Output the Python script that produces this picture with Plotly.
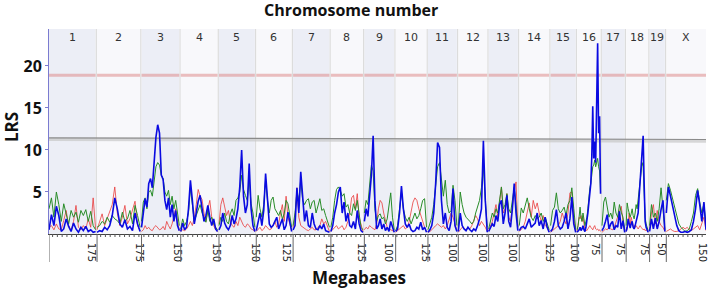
import plotly.graph_objects as go

# ---------------- data ----------------
CHROMS = ["1", "2", "3", "4", "5", "6", "7", "8", "9", "10",
          "11", "12", "13", "14", "15", "16", "17", "18", "19", "X"]
CHROM_LEN = [195, 180, 158, 154, 150, 148, 152, 134, 125, 129,
             121, 121, 122, 125, 105, 98, 95, 92, 64, 166]
GAP_MB = 6
LABEL_MB = [175, 175, 150, 150, 150, 125, 150, 125, 100, 125,
            100, 100, 100, 125, 100, 75, 75, 75, 50, 150]
MINOR_STEP_MB = 20

SIG_LRS = 18.9
SUG_LRS = (11.45, 11.25)

blue1 = [0.5, 2.3, 1.0, 3.3, 2.2, 0.3, 0.6, 1.8, 0.9, 0.3, 1.3, 0.6, 0.2, 0.8, 0.4, 0.9, 0.3, 0.5, 0.2, 0.3]
green1 = [3.0, 4.3, 2.0, 5.0, 3.5, 1.5, 3.6, 2.4, 1.2, 2.8, 2.0, 2.6, 1.4, 2.8, 2.2, 2.9, 1.5, 2.7, 1.0, 0.5]
red1 = [0.8, 1.0, 0.5, 1.2, 0.6, 0.5, 1.6, 2.8, 1.0, 0.4, 1.5, 3.4, 0.8, 0.5, 1.0, 0.6, 1.8, 0.8, 4.3, 0.6]

blue2 = [0.2, 0.4, 0.3, 0.8, 0.5, 1.0, 2.2, 4.3, 3.0, 1.2, 0.8, 1.7, 0.6, 0.9, 0.4, 2.5, 1.2, 0.3]
green2 = [0.8, 1.0, 1.5, 1.2, 2.0, 1.4, 2.2, 1.8, 1.6, 1.2, 2.6, 1.5, 1.8, 2.8, 1.2, 3.4, 2.2, 0.8]
red2 = [0.5, 1.5, 2.4, 1.0, 1.8, 2.5, 3.5, 5.6, 2.5, 1.0, 2.0, 3.4, 1.2, 1.8, 3.0, 3.9, 1.0, 0.4]

blue3 = [0.8, 2.5, 4.2, 3.2, 6.0, 6.6, 5.5, 8.5, 11.5, 13.0, 12.0, 7.0, 6.5, 4.0, 2.9, 4.3, 2.0, 3.5, 1.5, 2.8, 1.0, 0.4]
green3 = [1.5, 3.8, 4.3, 3.0, 5.0, 5.2, 4.5, 6.5, 8.0, 8.5, 8.2, 7.0, 6.6, 5.0, 4.5, 5.2, 3.5, 4.5, 3.0, 4.0, 2.2, 1.0]
red3 = [0.3, 0.5, 1.0, 0.6, 0.8, 0.5, 0.4, 0.8, 1.0, 0.8, 0.5, 0.6, 0.9, 0.5, 1.5, 1.0, 0.6, 1.2, 2.0, 3.0, 1.5, 0.4]

blue4 = [0.3, 1.3, 0.5, 0.8, 3.0, 6.4, 4.0, 1.2, 2.5, 3.9, 4.6, 2.8, 1.5, 2.2, 3.4, 2.0, 1.0, 1.8, 0.6, 0.3]
green4 = [0.6, 1.8, 1.0, 1.5, 2.5, 5.5, 3.5, 1.5, 2.2, 3.0, 3.5, 2.5, 2.0, 1.4, 2.8, 1.5, 2.0, 1.2, 0.8, 0.5]
red4 = [0.3, 0.5, 0.4, 0.6, 1.0, 1.5, 1.0, 2.0, 3.5, 5.3, 4.5, 4.1, 2.5, 1.5, 3.0, 4.0, 2.0, 1.0, 0.5, 0.3]

blue5 = [0.5, 1.0, 2.5, 1.3, 0.8, 0.5, 1.0, 2.2, 1.2, 1.8, 3.0, 5.6, 10.0, 4.5, 2.5, 3.5, 8.4, 3.0, 1.0, 0.3]
green5 = [1.0, 2.0, 1.5, 2.5, 1.5, 1.2, 2.4, 3.0, 2.2, 4.0, 4.3, 5.0, 7.0, 5.3, 4.6, 4.0, 6.5, 3.6, 2.5, 0.8]
red5 = [1.2, 3.5, 4.3, 3.0, 2.2, 2.8, 1.5, 1.0, 0.8, 1.5, 1.0, 2.0, 1.5, 1.0, 0.8, 1.2, 1.0, 0.6, 0.5, 0.3]

blue6 = [0.4, 1.5, 2.5, 1.0, 2.8, 7.2, 3.5, 1.2, 0.8, 1.0, 1.5, 2.0, 0.6, 1.2, 1.8, 0.5, 1.0, 2.6, 1.2, 0.3]
green6 = [2.0, 4.6, 3.0, 2.0, 3.5, 6.5, 4.0, 2.5, 4.0, 4.4, 3.0, 2.6, 2.2, 2.8, 1.8, 2.4, 4.0, 3.6, 2.0, 0.8]
red6 = [0.3, 0.5, 0.8, 0.4, 0.6, 1.0, 0.8, 0.5, 0.6, 1.0, 1.5, 0.8, 1.2, 2.5, 3.5, 1.5, 4.5, 2.0, 1.0, 0.4]

blue7 = [0.5, 1.0, 5.5, 2.5, 7.4, 4.5, 1.5, 2.8, 1.0, 0.8, 2.5, 1.2, 0.6, 0.5, 1.0, 0.6, 1.2, 0.4, 0.3, 0.2]
green7 = [1.0, 2.5, 5.0, 4.0, 6.5, 4.0, 3.5, 4.0, 4.2, 3.0, 3.8, 4.0, 2.5, 3.5, 4.2, 2.8, 3.0, 2.2, 1.5, 0.8]
red7 = [0.8, 2.0, 5.5, 2.0, 1.0, 0.8, 0.6, 0.5, 0.4, 0.6, 0.8, 0.5, 0.5, 0.8, 1.0, 1.8, 1.2, 1.5, 0.8, 0.3]

blue8 = [0.3, 1.0, 2.5, 3.5, 5.0, 5.6, 2.5, 3.8, 1.5, 2.5, 1.0, 0.8, 1.5, 0.6, 2.8, 1.2, 0.4, 0.2]
green8 = [0.8, 2.0, 4.0, 5.3, 5.6, 5.2, 4.5, 4.8, 3.2, 3.5, 2.5, 2.2, 3.6, 2.8, 4.0, 2.0, 0.8, 0.5]
red8 = [0.3, 0.5, 0.8, 1.0, 0.6, 0.8, 1.0, 0.5, 0.8, 1.5, 2.5, 4.3, 4.6, 3.0, 4.8, 2.0, 1.0, 0.3]

blue9 = [1.5, 3.0, 2.1, 4.5, 7.0, 11.7, 4.0, 0.6, 1.0, 1.8, 0.6, 1.2, 0.4, 0.8, 0.3, 1.5, 0.8, 0.2]
green9 = [2.5, 4.0, 3.5, 6.0, 8.2, 7.5, 3.0, 1.5, 2.2, 2.4, 1.8, 2.0, 1.2, 1.8, 3.5, 4.9, 2.0, 0.5]
red9 = [0.5, 0.8, 0.6, 1.0, 0.8, 0.6, 0.5, 1.2, 3.0, 4.0, 3.7, 2.5, 1.5, 0.8, 0.6, 0.5, 0.4, 0.3]

blue10 = [0.3, 0.6, 2.5, 5.7, 3.0, 1.2, 0.8, 1.2, 0.5, 0.3, 0.4, 0.8, 0.6, 1.4, 0.5, 0.8, 0.2]
green10 = [0.4, 1.0, 3.0, 5.0, 3.0, 2.0, 1.5, 2.0, 1.2, 2.0, 2.5, 1.8, 2.2, 3.0, 4.0, 4.2, 0.8]
red10 = [0.2, 0.4, 0.6, 0.8, 1.0, 0.6, 0.8, 1.5, 2.5, 3.8, 4.3, 4.0, 3.0, 2.2, 1.5, 0.8, 0.3]

blue11 = [0.2, 0.5, 1.0, 2.5, 6.0, 10.9, 10.3, 4.0, 1.2, 2.5, 0.8, 0.4, 1.5, 5.4, 1.0, 0.3]
green11 = [0.5, 1.2, 2.0, 3.5, 6.0, 8.0, 8.5, 6.5, 4.5, 6.4, 3.5, 2.5, 2.8, 5.8, 4.0, 1.0]
red11 = [0.2, 0.3, 0.5, 0.8, 1.0, 1.2, 1.0, 0.8, 1.0, 0.6, 1.0, 1.8, 2.5, 2.0, 1.2, 0.4]

blue12 = [0.3, 2.5, 1.0, 0.6, 0.4, 0.8, 0.5, 0.3, 0.6, 0.4, 1.0, 1.8, 3.0, 11.1, 4.0, 0.2]
green12 = [0.8, 5.0, 3.5, 2.5, 2.0, 1.8, 1.5, 1.2, 1.5, 2.5, 3.4, 4.0, 5.5, 8.0, 4.0, 0.8]
red12 = [0.2, 0.5, 0.8, 0.6, 0.5, 0.8, 0.6, 1.0, 1.5, 2.2, 1.8, 1.0, 1.5, 1.2, 0.8, 0.3]

blue13 = [0.3, 0.8, 1.2, 0.9, 2.2, 1.5, 3.5, 4.0, 1.2, 2.5, 4.6, 1.5, 0.8, 3.0, 6.0, 2.5, 0.4]
green13 = [0.6, 1.5, 2.5, 2.0, 3.0, 2.5, 4.0, 5.6, 3.0, 3.5, 4.8, 3.0, 2.5, 4.0, 5.5, 3.5, 0.8]
red13 = [0.4, 1.0, 1.5, 2.5, 3.5, 2.0, 4.0, 5.6, 2.5, 3.0, 4.8, 2.0, 1.5, 3.5, 5.0, 6.2, 0.8]

blue14 = [0.4, 0.8, 0.9, 0.6, 1.2, 1.8, 0.8, 1.0, 1.3, 2.5, 1.0, 1.6, 0.6, 2.0, 0.8, 0.2]
green14 = [1.0, 3.1, 2.5, 3.3, 4.3, 3.0, 2.0, 1.6, 2.2, 1.8, 2.0, 2.5, 1.5, 2.0, 1.2, 0.5]
red14 = [0.3, 0.5, 0.8, 1.5, 2.5, 3.7, 2.0, 4.0, 3.0, 3.7, 2.5, 1.5, 2.2, 1.0, 0.8, 0.3]

blue15 = [0.3, 0.6, 1.5, 2.9, 1.0, 0.6, 0.8, 1.5, 2.5, 0.6, 1.8, 4.4, 1.2, 0.2]
green15 = [1.0, 2.8, 3.2, 4.9, 3.0, 2.5, 2.8, 3.2, 2.2, 3.5, 4.0, 5.5, 3.0, 0.6]
red15 = [0.2, 0.4, 0.6, 0.8, 1.0, 1.5, 2.5, 1.8, 1.2, 2.5, 4.9, 5.0, 2.0, 0.3]

blue16 = [0.2, 0.3, 0.5, 0.8, 0.4, 0.6, 1.0, 0.5, 0.3, 0.8, 1.5, 2.5, 3.7, 5.0, 6.0, 9.2,
          15.2, 9.0, 11.0, 8.5, 17.0, 22.7, 12.0, 14.0, 4.8]
green16 = [0.5, 1.0, 2.0, 3.2, 2.0, 1.5, 2.5, 1.8, 1.0, 1.5, 2.0, 3.0, 4.5, 5.5, 6.0, 7.0,
           8.0, 8.2, 8.8, 8.0, 8.5, 9.0, 8.0, 7.5, 5.0]
red16 = [0.3, 1.0, 2.0, 1.8, 2.2, 1.5, 2.0, 1.2, 0.6, 0.5, 0.4, 0.6, 0.8, 1.0, 0.8, 0.6,
         0.5, 0.8, 1.0, 0.6, 0.5, 0.6, 0.4, 0.5, 0.3]

blue17 = [0.4, 0.8, 1.5, 2.3, 0.6, 1.2, 1.5, 0.5, 1.0, 0.8, 2.7, 0.6, 1.6, 0.2]
green17 = [1.0, 3.8, 4.4, 3.0, 2.0, 2.5, 1.8, 3.8, 2.5, 2.0, 3.5, 2.6, 2.0, 0.5]
red17 = [0.2, 0.4, 0.6, 0.5, 0.8, 0.6, 0.5, 0.8, 1.5, 2.0, 2.8, 3.3, 1.5, 0.3]

blue18 = [0.3, 0.8, 1.8, 1.2, 0.7, 1.2, 1.5, 0.8, 0.6, 1.0, 1.6, 2.0, 2.5, 4.5, 6.4, 8.0,
          10.0, 11.7, 6.0, 1.5, 0.8, 0.4, 0.2]
green18 = [1.0, 3.7, 3.0, 2.5, 2.0, 2.4, 3.0, 2.2, 1.8, 2.5, 3.5, 3.0, 4.0, 5.6, 6.5, 7.0,
           8.5, 8.0, 4.5, 2.0, 1.2, 0.8, 0.4]
red18 = [0.3, 0.6, 1.2, 2.5, 1.0, 2.0, 1.5, 0.8, 0.6, 0.8, 1.0, 0.8, 0.6, 0.8, 1.0, 0.8,
         0.6, 0.5, 0.6, 0.4, 0.5, 0.3, 0.2]

blue19 = [0.3, 1.8, 0.6, 1.9, 0.6, 1.5, 2.9, 4.0, 0.3]
green19 = [1.0, 3.5, 2.0, 2.5, 1.5, 3.0, 5.5, 2.8, 0.5]
red19 = [0.5, 2.5, 3.5, 1.2, 2.8, 1.5, 1.0, 0.8, 0.3]

blueX = [2.5, 5.6, 4.5, 3.2, 2.0, 1.0, 0.4, 0.2, 0.2, 0.3, 0.2, 0.3, 0.5, 1.5, 3.0, 5.2, 3.5, 1.5, 3.8, 0.5]
greenX = [4.0, 6.0, 5.2, 4.2, 3.0, 2.0, 1.2, 0.8, 0.5, 0.3, 0.4, 0.6, 1.5, 2.5, 4.6, 5.4, 3.8, 2.5, 3.6, 1.0]
redX = [0.3, 0.5, 0.6, 0.4, 0.3, 0.3, 0.4, 0.6, 0.8, 0.6, 0.8, 0.5, 0.4, 0.6, 0.8, 1.0, 0.5, 1.2, 2.0, 0.4]

BLUE = [blue1, blue2, blue3, blue4, blue5, blue6, blue7, blue8, blue9, blue10,
        blue11, blue12, blue13, blue14, blue15, blue16, blue17, blue18, blue19, blueX]
GREEN = [green1, green2, green3, green4, green5, green6, green7, green8, green9, green10,
         green11, green12, green13, green14, green15, green16, green17, green18, green19, greenX]
RED = [red1, red2, red3, red4, red5, red6, red7, red8, red9, red10,
       red11, red12, red13, red14, red15, red16, red17, red18, red19, redX]

# ---------------- layout helpers ----------------
starts = []
p = 0
for L in CHROM_LEN:
    starts.append(p)
    p += L + GAP_MB
TOTAL = starts[-1] + CHROM_LEN[-1]


def series_xy(per_chrom):
    xs, ys = [], []
    for i, vals in enumerate(per_chrom):
        n = len(vals)
        for j, v in enumerate(vals):
            xs.append(starts[i] + CHROM_LEN[i] * j / (n - 1))
            ys.append(v)
        xs.append(None)
        ys.append(None)
    return xs, ys


fig = go.Figure()
for data, color, width in [(RED, "rgba(232,60,60,0.8)", 1),
                           (GREEN, "rgb(40,140,40)", 1),
                           (BLUE, "rgb(10,10,225)", 1.6)]:
    x, y = series_xy(data)
    fig.add_trace(go.Scatter(x=x, y=y, mode="lines", line=dict(color=color, width=width),
                             hoverinfo="skip", showlegend=False, connectgaps=False))

shapes = []
PLOT_H = 205.0
for i, (s, L) in enumerate(zip(starts, CHROM_LEN)):
    fill = "#eceef6" if i % 2 == 0 else "#f8f8fb"
    shapes.append(dict(type="rect", xref="x", yref="paper", x0=s, x1=s + L, y0=0, y1=1,
                       fillcolor=fill, line=dict(width=0), layer="below"))
    if i > 0:
        gx = s - GAP_MB / 2
        shapes.append(dict(type="line", xref="x", yref="paper", x0=gx, x1=gx, y0=0, y1=1,
                           line=dict(color="#dcdcdc", width=1.2), layer="below"))
    # significant threshold segment
    shapes.append(dict(type="line", xref="x", yref="y", x0=s, x1=s + L, y0=SIG_LRS, y1=SIG_LRS,
                       line=dict(color="rgba(222,140,140,0.55)", width=3), layer="below"))
    # long boundary tick under the axis
    shapes.append(dict(type="line", xref="x", yref="paper", x0=s, x1=s, y0=0, y1=-28 / PLOT_H,
                       line=dict(color="#666666", width=1)))
    # minor ticks
    m = LABEL_MB[i]
    while m - MINOR_STEP_MB > 0:
        m -= MINOR_STEP_MB
    while m < L:
        shapes.append(dict(type="line", xref="x", yref="paper", x0=s + m, x1=s + m,
                           y0=0, y1=-3 / PLOT_H, line=dict(color="#555555", width=1)))
        m += MINOR_STEP_MB

# suggestive threshold (gray, with light shadow)
shapes.append(dict(type="line", xref="x", yref="y", x0=0, x1=TOTAL,
                   y0=SUG_LRS[0] - 0.2, y1=SUG_LRS[1] - 0.2,
                   line=dict(color="rgba(200,200,200,0.7)", width=3), layer="below"))
shapes.append(dict(type="line", xref="x", yref="y", x0=0, x1=TOTAL,
                   y0=SUG_LRS[0], y1=SUG_LRS[1],
                   line=dict(color="#8a8a8a", width=1.2), layer="below"))

annotations = []
for i, c in enumerate(CHROMS):
    annotations.append(dict(x=starts[i] + CHROM_LEN[i] / 2, xref="x", y=1, yref="paper",
                            yanchor="top", yshift=0, text=c, showarrow=False,
                            font=dict(family="DejaVu Sans", size=11, color="#333333")))
annotations.append(dict(x=(351 - 49) / 657, xref="paper", y=1, yref="paper", yshift=19,
                        yanchor="middle", text="<b>Chromosome number</b>", showarrow=False,
                        font=dict(family="Open Sans", size=16, color="#111111")))
annotations.append(dict(x=(359 - 49) / 657, xref="paper", y=0, yref="paper", yshift=-43,
                        yanchor="middle", text="<b>Megabases</b>", showarrow=False,
                        font=dict(family="Open Sans", size=17, color="#111111")))
annotations.append(dict(x=(11 - 49) / 657, xref="paper", y=(234 - 127) / 205, yref="paper",
                        xanchor="center", yanchor="middle", textangle=-90,
                        text="<b>LRS</b>", showarrow=False,
                        font=dict(family="Open Sans", size=17, color="#111111")))

fig.update_layout(
    width=708, height=291, autosize=False,
    margin=dict(l=49, r=2, t=29, b=57, autoexpand=False),
    paper_bgcolor="white", plot_bgcolor="white",
    shapes=shapes, annotations=annotations, showlegend=False,
    xaxis=dict(range=[0, TOTAL], showgrid=False, zeroline=False, showline=True,
               linecolor="#444444", linewidth=1, ticks="", automargin=False,
               tickvals=[s + m for s, m in zip(starts, LABEL_MB)],
               ticktext=[str(m) for m in LABEL_MB], tickangle=90,
               tickfont=dict(family="DejaVu Sans", size=10, color="#222222"),
               ticklabelstandoff=6),
    yaxis=dict(range=[0, 24.4], showgrid=False, zeroline=False, showline=True,
               linecolor="#7b7bd0", linewidth=1, ticks="outside", ticklen=3,
               tickcolor="#7b7bd0", tickvals=[5, 10, 15, 20], automargin=False,
               ticktext=["<b>5</b>", "<b>10</b>", "<b>15</b>", "<b>20</b>"],
               tickfont=dict(family="Open Sans", size=16, color="#111111")),
)

fig.write_html("out.html", config={"displayModeBar": False},
               post_script="document.body.style.margin='0';document.body.style.overflow='hidden';")
